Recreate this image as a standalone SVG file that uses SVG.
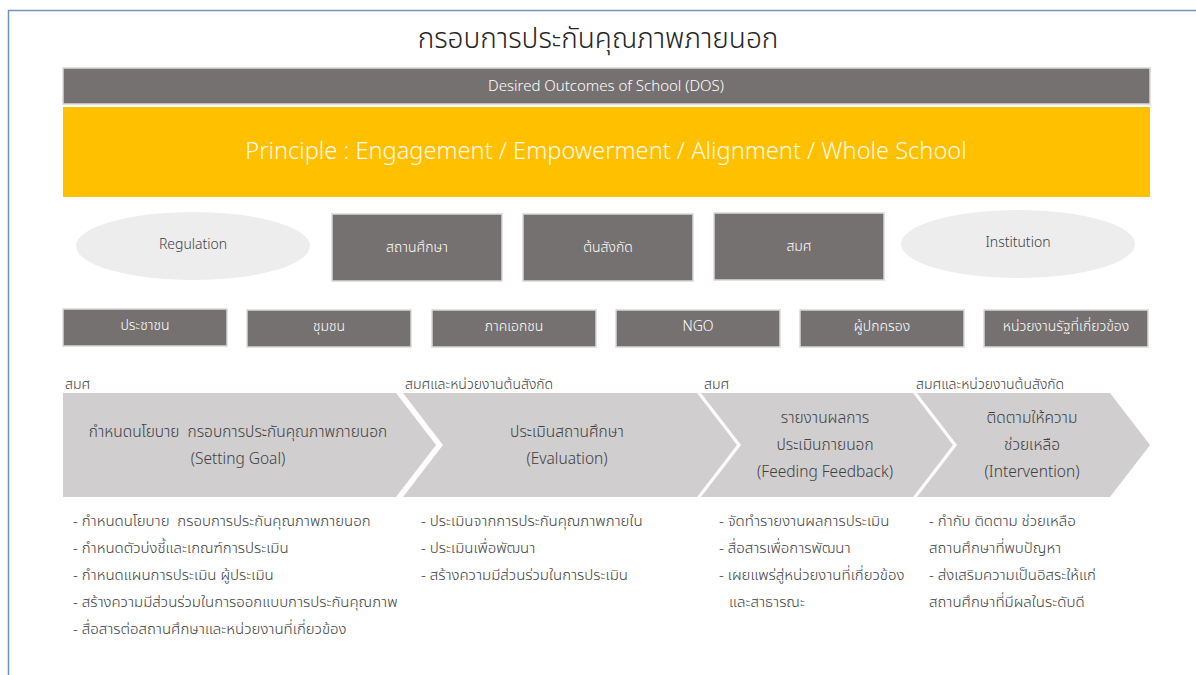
<svg xmlns="http://www.w3.org/2000/svg" width="1196" height="675" viewBox="0 0 1196 675">
<style>
text{font-family:"Noto Sans","Noto Sans Thai","DejaVu Sans",sans-serif;font-weight:300;white-space:pre;}
.gbox{fill:#767171;stroke:#d9d9d9;stroke-width:1.5;}
.ell{fill:#ededed;}
.chev{fill:#d0cece;}
.wt{fill:#ffffff;font-size:14px;text-anchor:middle;}
.dk{fill:#404040;font-size:14px;text-anchor:middle;}
.ch{fill:#404040;font-size:15.5px;text-anchor:middle;}
.lb{fill:#404040;font-size:14px;}
.bl{fill:#404040;font-size:15px;}
</style>
<rect width="1196" height="675" fill="#ffffff"/>
<path d="M1196 10.5 H8.5 V675" fill="none" stroke="#7393b8" stroke-width="1.5"/>
<text x="598" y="48" style="font-size:28px;fill:#262626;text-anchor:middle">กรอบการประกันคุณภาพภายนอก</text>

<g id="dos">
<rect class="gbox" x="63" y="68" width="1087" height="36"/>
<text class="wt" x="606" y="91" style="font-size:15px">Desired Outcomes of School (DOS)</text>
</g>
<g id="principle">
<rect x="63" y="107" width="1087" height="90" fill="#ffc000"/>
<text x="606" y="159" style="font-size:23.6px;fill:#fff8e6;text-anchor:middle">Principle : Engagement / Empowerment / Alignment / Whole School</text>
</g>

<g id="regulation">
<ellipse class="ell" cx="193" cy="246" rx="117" ry="34"/>
<text class="dk" x="193" y="249">Regulation</text>
</g>
<g id="school">
<rect class="gbox" x="332" y="214" width="170" height="67"/>
<text class="wt" x="417" y="252">สถานศึกษา</text>
</g>
<g id="affiliation">
<rect class="gbox" x="523" y="214" width="170" height="67"/>
<text class="wt" x="608" y="252">ต้นสังกัด</text>
</g>
<g id="onesqa">
<rect class="gbox" x="714" y="213" width="170" height="67"/>
<text class="wt" x="799" y="251">สมศ</text>
</g>
<g id="institution">
<ellipse class="ell" cx="1018" cy="244" rx="117" ry="34"/>
<text class="dk" x="1018" y="247">Institution</text>
</g>

<g id="people">
<rect class="gbox" x="63" y="309" width="164" height="37"/>
<text class="wt" x="145" y="330">ประชาชน</text>
</g>
<g id="community">
<rect class="gbox" x="247" y="310" width="164" height="37"/>
<text class="wt" x="329" y="331">ชุมชน</text>
</g>
<g id="private">
<rect class="gbox" x="432" y="310" width="164" height="37"/>
<text class="wt" x="514" y="331">ภาคเอกชน</text>
</g>
<g id="ngo">
<rect class="gbox" x="616" y="310" width="164" height="37"/>
<text class="wt" x="698" y="331">NGO</text>
</g>
<g id="parents">
<rect class="gbox" x="800" y="310" width="164" height="37"/>
<text class="wt" x="882" y="331">ผู้ปกครอง</text>
</g>
<g id="gov">
<rect class="gbox" x="984" y="310" width="164" height="37"/>
<text class="wt" x="1066" y="331">หน่วยงานรัฐที่เกี่ยวข้อง</text>
</g>

<g id="step1">
<text class="lb" x="65" y="389">สมศ</text>
<polygon class="chev" points="63,393 396,393 436,445 396,497 63,497"/>
<text class="ch" x="238" y="437" xml:space="preserve">กำหนดนโยบาย  กรอบการประกันคุณภาพภายนอก</text>
<text class="ch" x="238" y="464">(Setting Goal)</text>
<text class="bl" x="73" y="526" xml:space="preserve">- กำหนดนโยบาย  กรอบการประกันคุณภาพภายนอก</text>
<text class="bl" x="73" y="553">- กำหนดตัวบ่งชี้และเกณฑ์การประเมิน</text>
<text class="bl" x="73" y="580">- กำหนดแผนการประเมิน ผู้ประเมิน</text>
<text class="bl" x="73" y="607">- สร้างความมีส่วนร่วมในการออกแบบการประกันคุณภาพ</text>
<text class="bl" x="73" y="634">- สื่อสารต่อสถานศึกษาและหน่วยงานที่เกี่ยวข้อง</text>
</g>
<g id="step2">
<text class="lb" x="405" y="389">สมศและหน่วยงานต้นสังกัด</text>
<polygon class="chev" points="403,393 697,393 737,445 697,497 403,497 443,445"/>
<text class="ch" x="567" y="437">ประเมินสถานศึกษา</text>
<text class="ch" x="567" y="464">(Evaluation)</text>
<text class="bl" x="421" y="526">- ประเมินจากการประกันคุณภาพภายใน</text>
<text class="bl" x="421" y="553">- ประเมินเพื่อพัฒนา</text>
<text class="bl" x="421" y="580">- สร้างความมีส่วนร่วมในการประเมิน</text>
</g>
<g id="step3">
<text class="lb" x="704" y="389">สมศ</text>
<polygon class="chev" points="701,393 913,393 953,445 913,497 701,497 741,445"/>
<text class="ch" x="825" y="423">รายงานผลการ</text>
<text class="ch" x="825" y="450">ประเมินภายนอก</text>
<text class="ch" x="825" y="477">(Feeding Feedback)</text>
<text class="bl" x="719" y="526">- จัดทำรายงานผลการประเมิน</text>
<text class="bl" x="719" y="553">- สื่อสารเพื่อการพัฒนา</text>
<text class="bl" x="719" y="580">- เผยแพร่สู่หน่วยงานที่เกี่ยวข้อง</text>
<text class="bl" x="729" y="607">และสาธารณะ</text>
</g>
<g id="step4">
<text class="lb" x="916" y="389">สมศและหน่วยงานต้นสังกัด</text>
<polygon class="chev" points="917,393 1110,393 1150,445 1110,497 917,497 957,445"/>
<text class="ch" x="1032" y="423">ติดตามให้ความ</text>
<text class="ch" x="1032" y="450">ช่วยเหลือ</text>
<text class="ch" x="1032" y="477">(Intervention)</text>
<text class="bl" x="929" y="526">- กำกับ ติดตาม ช่วยเหลือ</text>
<text class="bl" x="929" y="553">สถานศึกษาที่พบปัญหา</text>
<text class="bl" x="929" y="580">- ส่งเสริมความเป็นอิสระให้แก่</text>
<text class="bl" x="929" y="607">สถานศึกษาที่มีผลในระดับดี</text>
</g>
<g id="connectors"></g>
</svg>
